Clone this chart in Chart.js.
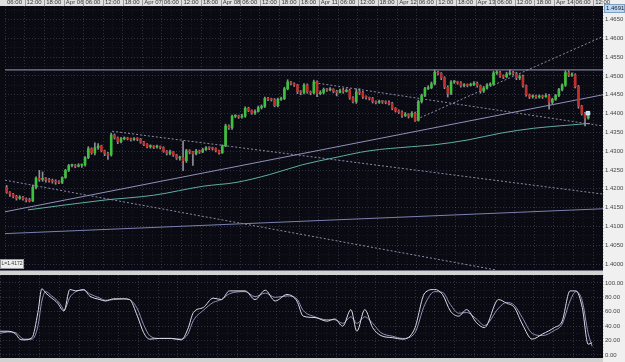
<!DOCTYPE html>
<html>
<head>
<meta charset="utf-8">
<script src="https://cdn.jsdelivr.net/npm/chart.js@4.4.1/dist/chart.umd.min.js"></script>
<style>
  body { margin: 0; background: #0a0a13; overflow: hidden; }
  canvas { display: block; }
</style>
</head>
<body>
<canvas id="priceChart" width="625" height="275"></canvas>
<canvas id="stochChart" width="625" height="87"></canvas>
<script>
// Axe du temps : 1 bougie = 1 heure, un repère toutes les 6 heures
const timeLabels = ["06:00", "12:00", "18:00", "Apr 06", "06:00", "12:00", "18:00", "Apr 07",
    "06:00", "12:00", "18:00", "Apr 08", "06:00", "12:00", "18:00", "18:00", "Apr 11",
    "06:00", "12:00", "18:00", "Apr 12", "06:00", "12:00", "18:00", "Apr 13",
    "06:00", "12:00", "18:00", "Apr 14", "06:00", "12:00"];

// Bougies horaires, prix en pips (4172 = 1.4172)
const opens = [
    4204, 4191, 4186, 4180, 4175, 4178, 4173, 4170, 4168, 4204,
    4228, 4225, 4227, 4224, 4222, 4220, 4218, 4217, 4230, 4249,
    4262, 4262, 4260, 4263, 4264, 4283, 4307, 4296, 4309, 4314,
    4301, 4294, 4290, 4343, 4336, 4325, 4333, 4335, 4333, 4331,
    4333, 4332, 4324, 4318, 4312, 4313, 4311, 4312, 4310, 4300,
    4294, 4299, 4290, 4282, 4283, 4275, 4301, 4298, 4293, 4301,
    4298, 4304, 4309, 4308, 4307, 4302, 4296, 4314, 4367, 4362,
    4393, 4393, 4391, 4393, 4414, 4408, 4401, 4406, 4416, 4419,
    4440, 4438, 4437, 4421, 4438, 4440, 4466, 4484, 4480, 4476,
    4458, 4456, 4476, 4458, 4455, 4484, 4453, 4456, 4464, 4463,
    4465, 4459, 4456, 4461, 4459, 4462, 4442, 4432, 4458, 4456,
    4445, 4443, 4440, 4432, 4430, 4433, 4431, 4430, 4427, 4414,
    4408, 4404, 4395, 4398, 4393, 4401, 4382, 4432, 4448, 4466,
    4469, 4479, 4510, 4507, 4495, 4470, 4453, 4484, 4484, 4482,
    4474, 4476, 4475, 4477, 4481, 4474, 4460, 4468, 4476, 4478,
    4508, 4509, 4500, 4498, 4505, 4508, 4506, 4495, 4498, 4474,
    4450, 4445, 4446, 4444, 4446, 4445, 4448, 4430, 4438, 4448,
    4464, 4476, 4509, 4502, 4503, 4472, 4420, 4400, 4388];
const highs = [
    4209, 4193, 4188, 4183, 4182, 4180, 4176, 4175, 4210, 4232,
    4249, 4245, 4230, 4228, 4226, 4224, 4222, 4232, 4252, 4265,
    4266, 4265, 4267, 4266, 4286, 4312, 4309, 4322, 4320, 4316,
    4303, 4297, 4348, 4346, 4338, 4337, 4338, 4337, 4335, 4336,
    4336, 4334, 4326, 4320, 4317, 4315, 4316, 4314, 4312, 4302,
    4303, 4300, 4292, 4287, 4327, 4305, 4304, 4300, 4305, 4303,
    4308, 4312, 4312, 4311, 4309, 4303, 4317, 4372, 4370, 4396,
    4397, 4396, 4398, 4418, 4417, 4410, 4410, 4420, 4423, 4444,
    4443, 4441, 4440, 4441, 4444, 4470, 4490, 4486, 4482, 4478,
    4461, 4480, 4479, 4460, 4489, 4487, 4461, 4468, 4467, 4469,
    4466, 4462, 4465, 4467, 4466, 4465, 4445, 4466, 4466, 4459,
    4447, 4444, 4443, 4434, 4436, 4435, 4434, 4434, 4430, 4416,
    4410, 4407, 4403, 4400, 4405, 4404, 4436, 4452, 4470, 4474,
    4484, 4516, 4513, 4509, 4498, 4474, 4488, 4488, 4486, 4485,
    4480, 4479, 4481, 4485, 4484, 4476, 4472, 4480, 4482, 4512,
    4514, 4512, 4503, 4510, 4516, 4512, 4510, 4503, 4502, 4476,
    4452, 4450, 4449, 4450, 4449, 4453, 4451, 4441, 4451, 4467,
    4479, 4514, 4514, 4508, 4506, 4475, 4422, 4403, 4395];
const lows = [
    4188, 4180, 4176, 4170, 4172, 4170, 4165, 4165, 4166, 4200,
    4220, 4220, 4218, 4218, 4215, 4212, 4214, 4214, 4228, 4246,
    4258, 4256, 4258, 4257, 4260, 4280, 4292, 4290, 4305, 4298,
    4288, 4278, 4287, 4332, 4320, 4322, 4330, 4330, 4327, 4329,
    4328, 4321, 4315, 4309, 4308, 4307, 4308, 4306, 4297, 4290,
    4290, 4286, 4278, 4276, 4248, 4270, 4293, 4262, 4290, 4294,
    4296, 4302, 4304, 4303, 4298, 4292, 4294, 4312, 4358, 4358,
    4389, 4387, 4388, 4390, 4405, 4398, 4398, 4404, 4412, 4416,
    4434, 4433, 4418, 4418, 4435, 4437, 4463, 4476, 4472, 4453,
    4450, 4452, 4454, 4450, 4452, 4445, 4450, 4452, 4459, 4460,
    4455, 4447, 4455, 4454, 4457, 4438, 4428, 4427, 4450, 4440,
    4438, 4436, 4428, 4426, 4427, 4427, 4426, 4423, 4410, 4404,
    4400, 4390, 4392, 4388, 4390, 4379, 4380, 4428, 4445, 4464,
    4466, 4476, 4503, 4490, 4466, 4444, 4450, 4480, 4478, 4470,
    4471, 4471, 4473, 4474, 4470, 4454, 4456, 4465, 4474, 4475,
    4504, 4496, 4493, 4495, 4503, 4502, 4490, 4490, 4470, 4446,
    4440, 4441, 4440, 4441, 4440, 4443, 4412, 4426, 4435, 4445,
    4460, 4472, 4498, 4499, 4468, 4414, 4396, 4367, 4385];
const closes = [
    4191, 4186, 4180, 4175, 4178, 4173, 4170, 4168, 4204, 4228,
    4225, 4227, 4224, 4222, 4220, 4218, 4217, 4230, 4249, 4262,
    4262, 4260, 4263, 4264, 4283, 4307, 4296, 4309, 4314, 4301,
    4294, 4290, 4343, 4336, 4325, 4333, 4335, 4333, 4331, 4333,
    4332, 4324, 4318, 4312, 4313, 4311, 4312, 4310, 4300, 4294,
    4299, 4290, 4282, 4283, 4275, 4301, 4298, 4293, 4301, 4298,
    4304, 4309, 4308, 4307, 4302, 4296, 4314, 4367, 4362, 4393,
    4393, 4391, 4393, 4414, 4408, 4401, 4406, 4416, 4419, 4440,
    4438, 4437, 4421, 4438, 4440, 4466, 4484, 4480, 4476, 4458,
    4456, 4476, 4458, 4455, 4484, 4453, 4456, 4464, 4463, 4465,
    4459, 4456, 4461, 4459, 4462, 4442, 4432, 4458, 4456, 4445,
    4443, 4440, 4432, 4430, 4433, 4431, 4430, 4427, 4414, 4408,
    4404, 4395, 4398, 4393, 4401, 4382, 4432, 4448, 4466, 4469,
    4479, 4510, 4507, 4495, 4470, 4453, 4484, 4484, 4482, 4474,
    4476, 4475, 4477, 4481, 4474, 4460, 4468, 4476, 4478, 4508,
    4509, 4500, 4498, 4505, 4508, 4506, 4495, 4498, 4474, 4450,
    4445, 4446, 4444, 4446, 4445, 4448, 4430, 4438, 4448, 4464,
    4476, 4509, 4502, 4503, 4472, 4420, 4400, 4388, 4393];

// Lignes tracées : [heure, pips]
const resistLine = [[0, 4516], [183, 4516]];
const trendUp = [[0, 4139], [183, 4450]];
const trendLow = [[0, 4081], [183, 4147]];
const dashA = [[0, 4223], [150.5, 3984]];
const dashB = [[32.8, 4353], [183, 4186]];
const dashC = [[94.7, 4482], [183, 4367]];
const dashD = [[126, 4385], [183, 4605]];

// Moyenne mobile
const maHours = [7, 30.3, 45.5, 60.7, 70.7, 81, 91, 101, 111.4, 124.4, 131.4, 141.7, 151.7, 161.8, 172, 179];
const maValues = [4144, 4170, 4183, 4207, 4217, 4238, 4264, 4283, 4301, 4312, 4317, 4330, 4348, 4361, 4369, 4374];

const markerHour = 178.4;
const markerPips = 4401;
const lastPriceLabel = '1.4691';
const lowLabel = 'L=1.4172';

// Stochastique
const stochHours = [0, 2.4, 4.8, 6, 7.3, 9.7, 11.5, 12.7, 13.9, 15.7,
    17.5, 18.8, 19.4, 21.2, 23, 25.4, 27.2, 30.3, 32, 34.5,
    37.5, 39.3, 41.7, 43.6, 45.4, 48.4, 52, 55, 57, 58.7,
    61.7, 64.7, 67.2, 69.6, 74.4, 77.4, 80.5, 83.5, 87.1, 90.1,
    92, 95.6, 99.2, 101.6, 104, 106.5, 108.3, 110.7, 113.1, 115.6,
    119.2, 122.2, 125.8, 128.9, 131.9, 134.3, 136.7, 139.2, 141.6, 144.6,
    147, 151.3, 153.7, 156.1, 158.5, 161.5, 164.6, 168.2, 170.6, 173,
    174.8, 176.7, 178.5, 179.7];
const stochK = [33, 33, 29, 22, 21, 24, 59, 92, 86, 79,
    72, 63, 61, 91, 89, 91, 82, 77, 75, 78,
    78, 77, 54, 31, 22, 23, 23, 21, 36, 59,
    66, 79, 77, 89, 89, 77, 90, 75, 84, 75,
    54, 52, 47, 50, 40, 63, 33, 63, 38, 27,
    24, 22, 36, 86, 91, 84, 61, 54, 63, 45,
    38, 77, 72, 66, 43, 22, 29, 38, 47, 89,
    89, 66, 15, 17];
const stochD = [30, 32, 31, 26, 22, 22, 40, 75, 88, 82,
    75, 67, 62, 80, 88, 90, 85, 79, 76, 77,
    78, 77, 64, 42, 27, 23, 23, 22, 29, 48,
    62, 73, 77, 85, 88, 81, 86, 80, 82, 78,
    62, 53, 49, 49, 44, 53, 44, 53, 44, 31,
    26, 23, 30, 70, 88, 87, 70, 58, 59, 50,
    41, 65, 73, 69, 52, 30, 27, 34, 43, 75,
    88, 75, 30, 12];

const upColor = '#3cc23c';
const downColor = '#c0302e';
const wickColor = '#8e8e98';

Chart.defaults.font.family = '"Liberation Sans", Arial, sans-serif';
Chart.defaults.font.size = 6;

const toPrice = (p) => 1 + p / 10000;
const segment = (pts) => pts.map(([h, p]) => ({ x: h, y: toPrice(p) }));

function lineDataset(points, color, dashed) {
    return {
        type: 'line',
        data: segment(points),
        borderColor: color,
        borderWidth: 1,
        borderDash: dashed ? [2, 2] : [],
        pointRadius: 0,
        tension: 0,
        order: 3
    };
}

const gridColor = (ctx) => (ctx.tick && ctx.tick.value % 6 === 0) ? 'rgba(95,95,120,0.45)' : 'rgba(70,70,95,0.25)';

const darkPanel = {
    id: 'darkPanel',
    beforeDraw(chart) {
        const { ctx, chartArea: a, width, height } = chart;
        ctx.save();
        ctx.fillStyle = '#0a0a13';
        ctx.fillRect(0, 0, width, height);
        ctx.fillStyle = '#f0f0f0';
        ctx.fillRect(a.right, 0, width - a.right, height);
        if (a.top > 0) {
            ctx.fillStyle = '#e0e0e0';
            ctx.fillRect(0, 0, a.right, a.top);
        }
        if (a.bottom < height) {
            ctx.fillStyle = '#d2d2d2';
            ctx.fillRect(0, a.bottom, a.right, height - a.bottom);
        }
        ctx.restore();
    }
};

const priceExtras = {
    id: 'priceExtras',
    afterDraw(chart) {
        const { ctx, chartArea: a, scales } = chart;
        ctx.save();
        // séparateurs de la bande horaire
        ctx.strokeStyle = '#9a9a9a';
        ctx.lineWidth = 1;
        for (let h = 6; h < 183; h += 6) {
            const x = Math.round(scales.x.getPixelForValue(h)) + 0.5;
            ctx.beginPath();
            ctx.moveTo(x, 0);
            ctx.lineTo(x, a.top);
            ctx.stroke();
        }
        // séparation avec le panneau du bas
        ctx.strokeStyle = '#6c6c7a';
        ctx.beginPath();
        ctx.moveTo(0, a.bottom + 0.5);
        ctx.lineTo(a.right, a.bottom + 0.5);
        ctx.stroke();
        // étiquette du dernier prix
        ctx.fillStyle = '#bcd9f4';
        ctx.fillRect(a.right + 1, 4, 21, 9);
        ctx.strokeStyle = '#7f9fc0';
        ctx.strokeRect(a.right + 1.5, 4.5, 20, 8);
        ctx.fillStyle = '#223';
        ctx.font = '6px "Liberation Sans", Arial, sans-serif';
        ctx.textBaseline = 'middle';
        ctx.fillText(lastPriceLabel, a.right + 3, 8.5);
        // boîte du plus bas
        ctx.fillStyle = '#eeeeee';
        ctx.fillRect(0, a.bottom - 11, 24, 10);
        ctx.strokeStyle = '#9a9a9a';
        ctx.strokeRect(0.5, a.bottom - 10.5, 23, 9);
        ctx.fillStyle = '#333';
        ctx.font = '5px "Liberation Sans", Arial, sans-serif';
        ctx.fillText(lowLabel, 1.5, a.bottom - 6);
        ctx.restore();
    }
};

const candleBodies = closes.map((c, i) => ({ x: i + 0.5, y: [toPrice(opens[i]), toPrice(c)] }));
const candleWicks = highs.map((h, i) => ({ x: i + 0.5, y: [toPrice(lows[i]), toPrice(h)] }));
const bodyColors = closes.map((c, i) => c >= opens[i] ? upColor : downColor);

const priceConfig = {
    type: 'bar',
    data: {
        datasets: [{
            data: candleBodies,
            backgroundColor: bodyColors,
            borderWidth: 0,
            barThickness: 2,
            minBarLength: 1,
            grouped: false,
            order: 0
        }, {
            data: candleWicks,
            backgroundColor: wickColor,
            borderWidth: 0,
            barThickness: 1,
            grouped: false,
            order: 1
        },
        {
            type: 'line',
            data: [{ x: markerHour, y: toPrice(markerPips) }],
            showLine: false,
            pointStyle: 'rect',
            pointRadius: 2.5,
            pointBackgroundColor: '#b4dcfa',
            pointBorderColor: '#e4f2ff',
            order: -1
        },
        {
            type: 'line',
            data: maHours.map((h, i) => ({ x: h, y: toPrice(maValues[i]) })),
            borderColor: '#5faea4',
            borderWidth: 1,
            pointRadius: 0,
            cubicInterpolationMode: 'monotone',
            order: 2
        },
        lineDataset(resistLine, '#9c9cba', false),
        lineDataset(trendUp, '#8f90bc', false),
        lineDataset(trendLow, '#7c80b0', false),
        lineDataset(dashA, '#8a8aaa', true),
        lineDataset(dashB, '#8a8aaa', true),
        lineDataset(dashC, '#8a8aaa', true),
        lineDataset(dashD, '#8a8aaa', true)]
    },
    options: {
        responsive: false,
        animation: false,
        devicePixelRatio: 1,
        layout: { padding: { bottom: 1 } },
        plugins: { legend: { display: false }, tooltip: { enabled: false } },
        scales: {
            x: {
                type: 'linear',
                position: 'top',
                min: 0,
                max: 183,
                offset: false,
                afterBuildTicks: (s) => {
                    s.ticks = [];
                    for (let h = 0; h <= 183; h += 3) s.ticks.push({ value: h });
                },
                afterFit: (s) => { s.height = 6; s.paddingLeft = 0; s.paddingRight = 0; },
                ticks: {
                    autoSkip: false, maxRotation: 0, minRotation: 0,
                    align: 'start', labelOffset: 2, padding: 0, color: '#333',
                    callback: (v) => v % 6 === 0 ? (timeLabels[v / 6] || '') : ''
                },
                grid: { offset: false, drawTicks: false, color: gridColor },
                border: { display: false, dash: [1, 2] }
            },
            y: {
                position: 'right',
                min: 1.39843,
                max: 1.46859,
                beginAtZero: false,
                afterBuildTicks: (s) => {
                    s.ticks = [];
                    for (let k = 0; k <= 27; k++) {
                        const v = Math.round((1.4 + k * 0.0025) * 10000) / 10000;
                        if (v <= s.max) s.ticks.push({ value: v });
                    }
                },
                afterFit: (s) => { s.width = 22; s.paddingTop = 0; s.paddingBottom = 0; },
                ticks: {
                    autoSkip: false, padding: 2, color: '#444',
                    callback: (v) => Math.round(v * 10000) % 50 === 0 ? v.toFixed(4) : ''
                },
                grid: {
                    drawTicks: false,
                    color: (ctx) => (ctx.tick && Math.round(ctx.tick.value * 10000) % 50 === 0) ? 'rgba(95,95,120,0.45)' : 'rgba(70,70,95,0.25)'
                },
                border: { display: false, dash: [1, 2] }
            }
        }
    },
    plugins: [darkPanel, priceExtras]
};

let priceChart = new Chart(document.getElementById('priceChart'), priceConfig);

const stochConfig = {
    type: 'line',
    data: {
        datasets: [{
            data: stochHours.map((h, i) => ({ x: h, y: stochK[i] })),
            borderColor: '#dcdce6',
            borderWidth: 1,
            pointRadius: 0,
            cubicInterpolationMode: 'monotone'
        }, {
            data: stochHours.map((h, i) => ({ x: h, y: stochD[i] })),
            borderColor: '#9092b8',
            borderWidth: 1,
            pointRadius: 0,
            cubicInterpolationMode: 'monotone'
        }]
    },
    options: {
        responsive: false,
        animation: false,
        devicePixelRatio: 1,
        plugins: { legend: { display: false }, tooltip: { enabled: false } },
        scales: {
            x: {
                type: 'linear',
                min: 0,
                max: 183,
                afterBuildTicks: (s) => {
                    s.ticks = [];
                    for (let h = 0; h <= 183; h += 3) s.ticks.push({ value: h });
                },
                afterFit: (s) => { s.height = 4; s.paddingLeft = 0; s.paddingRight = 0; },
                ticks: { display: false },
                grid: { drawTicks: false, color: gridColor },
                border: { display: false, dash: [1, 2] }
            },
            y: {
                position: 'right',
                min: -4.17,
                max: 111.1,
                afterBuildTicks: (s) => {
                    s.ticks = [];
                    for (let v = 0; v <= 110; v += 10) s.ticks.push({ value: v });
                },
                afterFit: (s) => { s.width = 22; s.paddingTop = 0; s.paddingBottom = 0; },
                ticks: {
                    autoSkip: false, padding: 2, color: '#444',
                    callback: (v) => v % 20 === 0 ? v.toFixed(2) : ''
                },
                grid: {
                    drawTicks: false,
                    color: (ctx) => (ctx.tick && ctx.tick.value % 20 === 0) ? 'rgba(95,95,120,0.45)' : 'rgba(70,70,95,0.25)'
                },
                border: { display: false, dash: [1, 2] }
            }
        }
    },
    plugins: [darkPanel]
};

let stochChart = new Chart(document.getElementById('stochChart'), stochConfig);
</script>
</body>
</html>
